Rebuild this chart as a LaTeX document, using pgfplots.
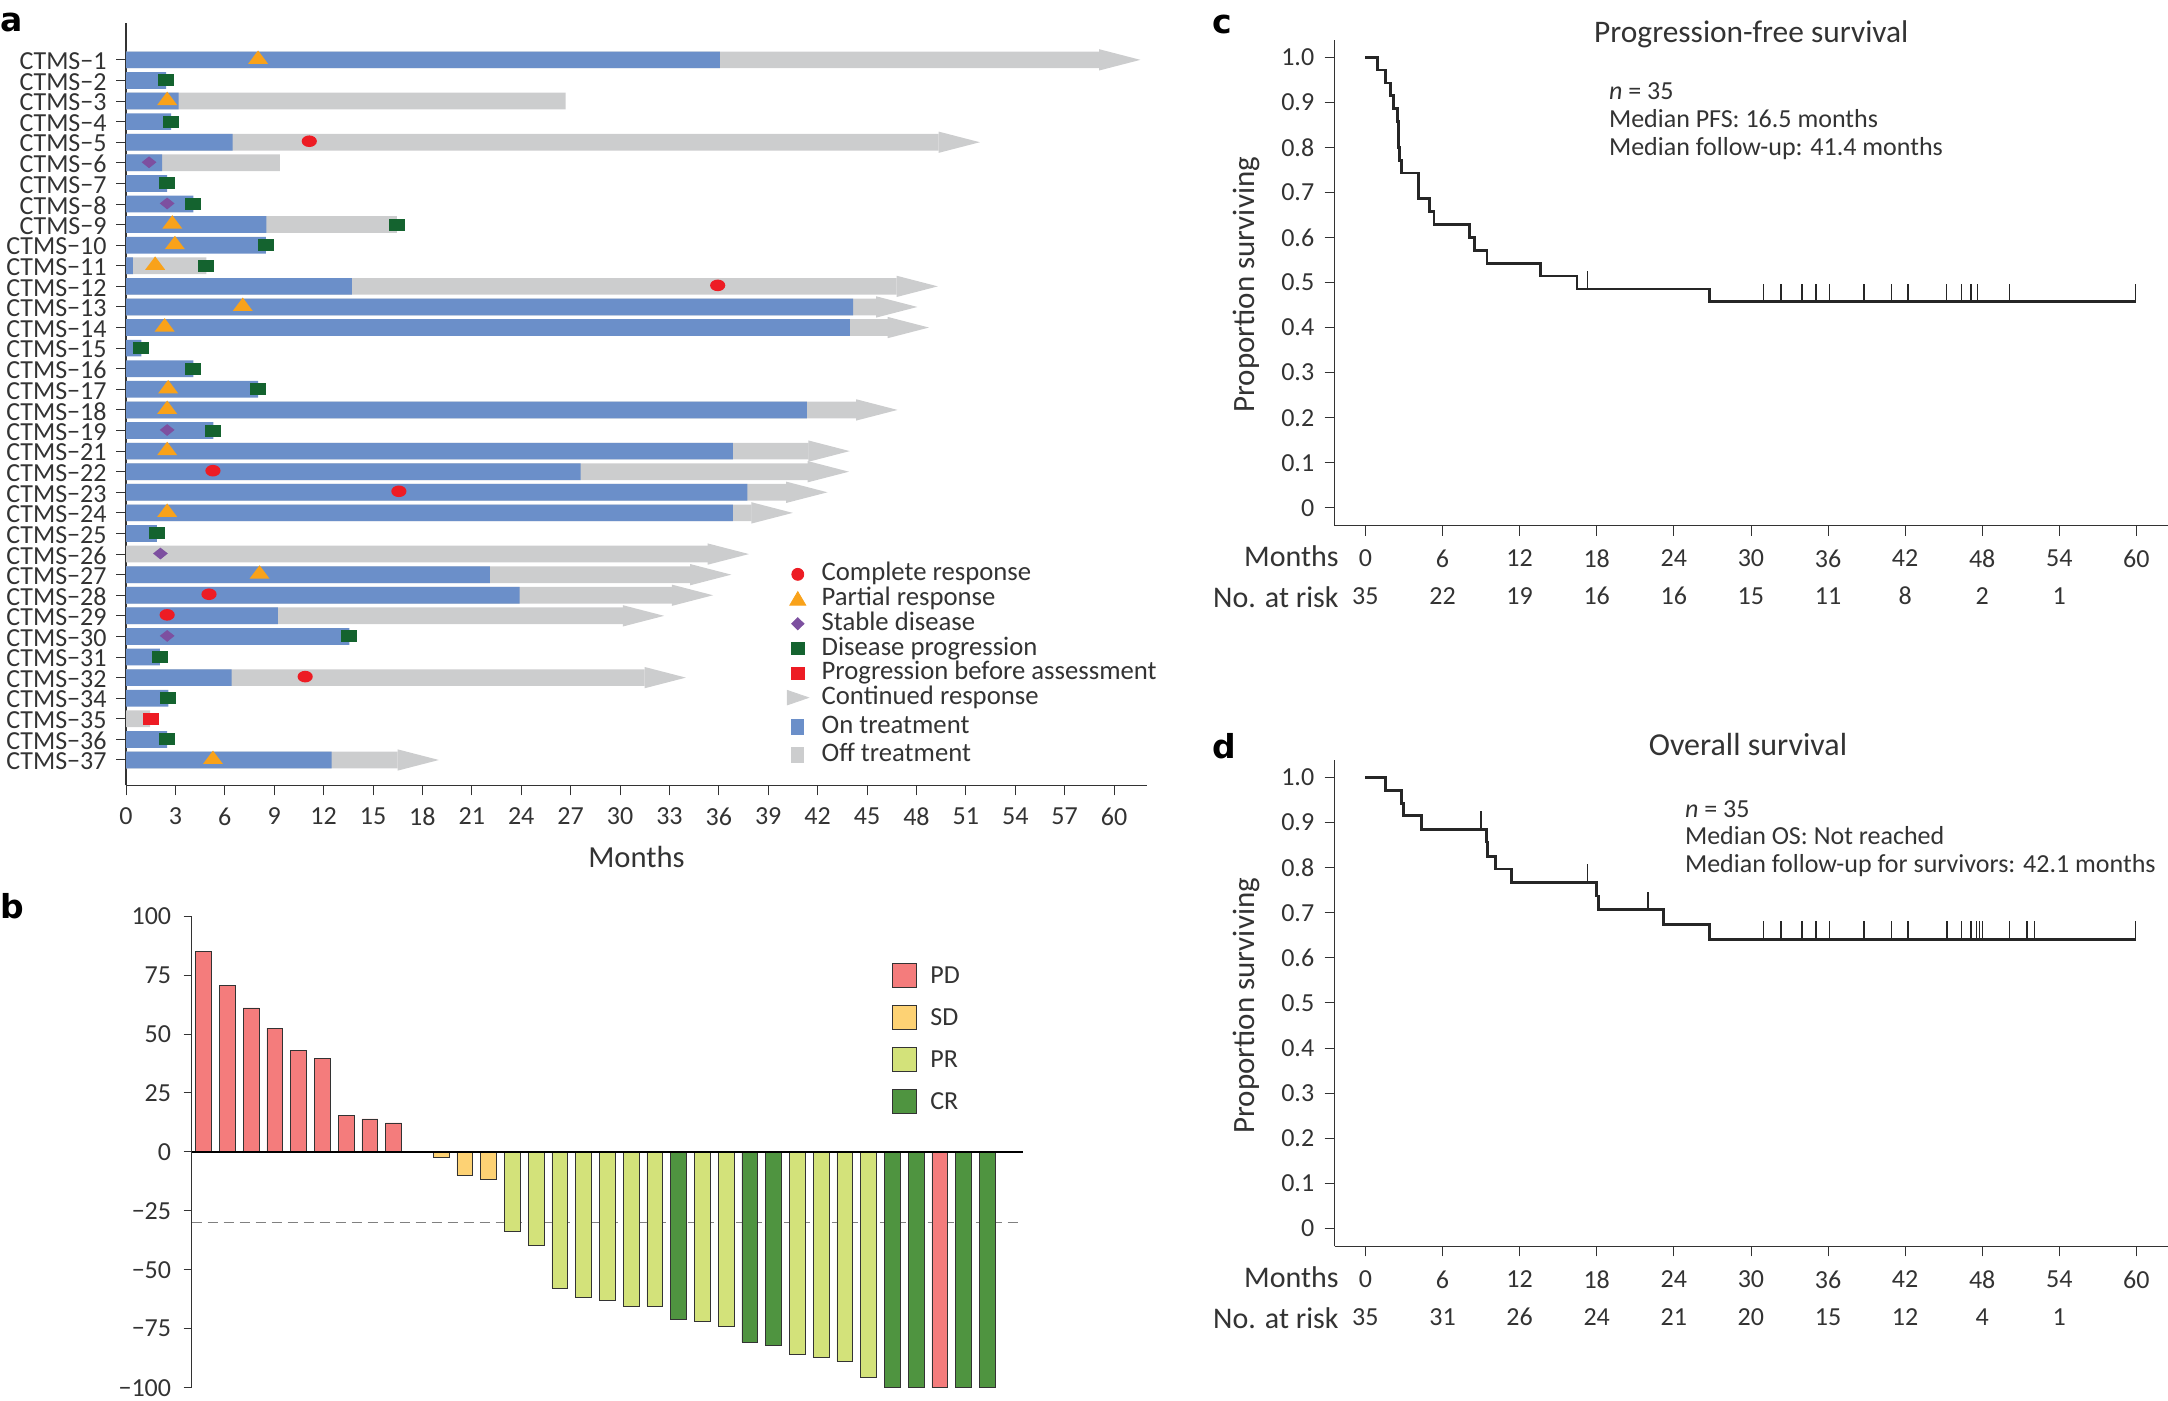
\documentclass[border=0pt]{standalone}
\usepackage{fontspec}
\setmainfont{Carlito}
\newfontfamily\panelfont{DejaVu Sans}
\usepackage{pgfplots}
\usepackage{pgfplotstable}
\pgfplotsset{compat=1.18}

\definecolor{blu}{HTML}{6B8FC9}
\definecolor{gry}{HTML}{CCCDCE}
\definecolor{cCR}{HTML}{ED1C24}
\definecolor{cPR}{HTML}{F9A21A}
\definecolor{cSD}{HTML}{7D50A0}
\definecolor{cDP}{HTML}{14632F}
\definecolor{bPD}{HTML}{F47C7C}
\definecolor{bSD}{HTML}{FDD274}
\definecolor{bPR}{HTML}{D3E27A}
\definecolor{bCR}{HTML}{4F9440}
\definecolor{axc}{HTML}{333333}

% marks, 1 image pixel = 0.5pt
\pgfdeclareplotmark{prtri}{\pgfpathmoveto{\pgfqpoint{-5pt}{-2pt}}\pgfpathlineto{\pgfqpoint{5pt}{-2pt}}\pgfpathlineto{\pgfqpoint{0pt}{4.7pt}}\pgfpathclose\pgfusepathqfill}
\pgfdeclareplotmark{crell}{\pgfpathellipse{\pgfqpoint{0pt}{0.5pt}}{\pgfqpoint{3.8pt}{0pt}}{\pgfqpoint{0pt}{2.9pt}}\pgfusepathqfill}
\pgfdeclareplotmark{dpsq}{\pgfpathrectangle{\pgfqpoint{-4pt}{-3pt}}{\pgfqpoint{8pt}{6pt}}\pgfusepathqfill}
\pgfdeclareplotmark{sddia}{\pgfpathmoveto{\pgfqpoint{-3.7pt}{0.3pt}}\pgfpathlineto{\pgfqpoint{0pt}{3.2pt}}\pgfpathlineto{\pgfqpoint{3.7pt}{0.3pt}}\pgfpathlineto{\pgfqpoint{0pt}{-2.7pt}}\pgfpathclose\pgfusepathqfill}
\pgfdeclareplotmark{arrowtip}{\pgfpathmoveto{\pgfqpoint{0pt}{0pt}}\pgfpathlineto{\pgfqpoint{-20.65pt}{5.33pt}}\pgfpathlineto{\pgfqpoint{-20.65pt}{-5.33pt}}\pgfpathclose\pgfusepathqfill}
\pgfdeclareplotmark{censor}{\pgfpathmoveto{\pgfqpoint{0pt}{0pt}}\pgfpathlineto{\pgfqpoint{0pt}{9pt}}\pgfusepathqstroke}

% panel a: row (35 = CTMS-1 ... 1 = CTMS-37), end of treatment
\pgfplotstableread{
row on
35 36.07
34 2.44
33 3.20
32 2.74
31 6.48
30 2.20
29 2.50
28 4.09
27 8.53
26 8.50
25 0.42
24 13.71
23 44.15
22 43.95
21 0.93
20 4.09
19 8.02
18 41.35
17 5.30
16 36.85
15 27.60
14 37.74
13 36.85
12 1.88
10 22.10
9 23.90
8 9.23
7 13.57
6 2.05
5 6.41
4 2.58
2 2.50
1 12.48
}\ontable
% end of follow-up bar
\pgfplotstableread{
row off
35 59.10
33 26.70
31 49.35
30 9.34
27 16.45
25 4.88
24 46.80
23 45.56
22 46.26
18 44.35
16 41.45
15 41.40
14 40.10
13 37.99
11 35.33
10 34.26
9 33.15
8 30.18
5 31.50
3 1.46
1 16.50
}\offtable

\newcommand\sw[1]{\rule[-2.6pt]{0pt}{#1}}
\newcommand\tsa{\fontsize{13}{15}\selectfont}
\newcommand\tsl{\fontsize{13.35}{15}\selectfont}
\newcommand\lbox{\path[draw=none,fill=none] (-5pt,0)--(9.95pt,0);}
\newcommand\bbox{\path[draw=none,fill=none] (0,0)--(17pt,0);}

\begin{document}
\begin{tikzpicture}[x=0.5pt,y=-0.5pt]
\useasboundingbox (0,0) rectangle (2168,1401);

% ---- panel a
\begin{axis}[
  at={(63pt,-11.5pt)}, anchor=north west,
  scale only axis, width=510.5pt, height=381.15pt,
  xmin=0, xmax=62, ymin=-0.229, ymax=36.79,
  axis lines=left, axis line style={-, axc, line width=0.6pt},
  tick style={axc, line width=0.5pt}, tick align=outside, major tick length=5pt,
  xtick={0,3,...,60},
  ytick={1,...,35},
  yticklabels={CTMS−37,CTMS−36,CTMS−35,CTMS−34,CTMS−32,CTMS−31,CTMS−30,CTMS−29,CTMS−28,CTMS−27,CTMS−26,CTMS−25,CTMS−24,CTMS−23,CTMS−22,CTMS−21,CTMS−19,CTMS−18,CTMS−17,CTMS−16,CTMS−15,CTMS−14,CTMS−13,CTMS−12,CTMS−11,CTMS−10,CTMS−9,CTMS−8,CTMS−7,CTMS−6,CTMS−5,CTMS−4,CTMS−3,CTMS−2,CTMS−1},
  /pgf/number format/assume math mode=true,
  tick label style={font=\tsa, text=axc},
  yticklabel style={inner sep=0pt, xshift=-4.5pt, yshift=-0.7pt},
  xticklabel style={inner sep=0pt, yshift=-6pt},
  xlabel={Months},
  xlabel style={at={(axis description cs:0.5,-0.0937)}, anchor=center, font=\fontsize{15.3}{17}\selectfont, text=axc},
  clip=false,
  legend style={at={(0.647,0.2993)}, anchor=north west, draw=none, fill=none, inner sep=0pt,
    row sep=-2.85pt, font=\tsl, text=axc, cells={anchor=base west, inner sep=0pt}},
]
\addlegendimage{legend image code/.code={\lbox\fill[cCR] (0,3.3pt) circle (3pt);}}
\addlegendentry{\sw{12.3pt}Complete response}
\addlegendimage{legend image code/.code={\lbox\fill[cPR] (-4pt,0.2pt)--(4pt,0.2pt)--(0,7pt)--cycle;}}
\addlegendentry{\sw{12.3pt}Partial response}
\addlegendimage{legend image code/.code={\lbox\fill[cSD] (-3.1pt,3.3pt)--(0,6.3pt)--(3.1pt,3.3pt)--(0,0.3pt)--cycle;}}
\addlegendentry{\sw{12.3pt}Stable disease}
\addlegendimage{legend image code/.code={\lbox\fill[cDP] (-3.1pt,0.3pt) rectangle (3.1pt,6.3pt);}}
\addlegendentry{\sw{12.3pt}Disease progression}
\addlegendimage{legend image code/.code={\lbox\fill[cCR] (-3.1pt,0.3pt) rectangle (3.1pt,6.3pt);}}
\addlegendentry{\sw{12.3pt}Progression before assessment}
\addlegendimage{legend image code/.code={\lbox\fill[gry] (-5.2pt,-0.2pt)--(-5.2pt,7pt)--(5.3pt,3.4pt)--cycle;}}
\addlegendentry{\sw{12.3pt}Continued response}
\addlegendimage{legend image code/.code={\lbox\fill[blu] (-3pt,-0.5pt) rectangle (3pt,7pt);}}
\addlegendentry{\sw{14.6pt}On treatment}
\addlegendimage{legend image code/.code={\lbox\fill[gry] (-3pt,-0.5pt) rectangle (3pt,7pt);}}
\addlegendentry{\sw{13.65pt}Off treatment}

\addplot[forget plot, xbar, bar width=8.35pt, bar shift=0pt, fill=gry, draw=none] table[x=off,y=row] {\offtable};
\addplot[forget plot, xbar, bar width=8.35pt, bar shift=0pt, fill=blu, draw=none] table[x=on,y=row] {\ontable};
% continued response
\addplot[forget plot, only marks, mark=arrowtip, color=gry] coordinates {
(61.6,35)(51.85,31)(49.3,24)(48.06,23)(48.76,22)(46.85,18)(43.95,16)(43.9,15)(42.6,14)(40.49,13)(37.83,11)(36.76,10)(35.65,9)(32.68,8)(34.0,5)(19.0,1)};
% partial response
\addplot[forget plot, only marks, mark=prtri, color=cPR] coordinates {
(8.02,35)(2.5,33)(2.81,27)(2.97,26)(1.77,25)(7.09,23)(2.35,22)(2.56,19)(2.5,18)(2.5,16)(2.5,13)(8.11,10)(5.28,1)};
% complete response
\addplot[forget plot, only marks, mark=crell, color=cCR] coordinates {
(11.13,31)(35.93,24)(5.28,15)(16.57,14)(5.04,9)(2.5,8)(10.88,5)};
% stable disease
\addplot[forget plot, only marks, mark=sddia, color=cSD] coordinates {
(1.4,30)(2.5,28)(2.5,17)(2.09,11)(2.5,7)};
% disease progression
\addplot[forget plot, only marks, mark=dpsq, color=cDP] coordinates {
(2.44,34)(2.74,32)(2.5,29)(4.09,28)(16.45,27)(8.5,26)(4.88,25)(0.93,21)(4.09,20)(8.02,19)(5.3,17)(1.88,12)(13.57,7)(2.05,6)(2.58,4)(2.5,2)};
% progression before assessment
\addplot[forget plot, only marks, mark=dpsq, color=cCR] coordinates {(1.5,3)};
\end{axis}

% ---- panel b
\begin{axis}[
  at={(95.75pt,-458pt)}, anchor=north west,
  scale only axis, width=415.75pt, height=235.85pt,
  xmin=-0.51, xmax=34.5, ymin=-100, ymax=100,
  axis y line=left, axis x line=middle, axis line style={-},
  x axis line style={black, line width=0.7pt}, y axis line style={axc, line width=0.4pt},
  axis on top,
  xtick=\empty,
  ytick={-100,-75,-50,-25,0,25,50,75,100},
  yticklabels={−100,−75,−50,−25,0,25,50,75,100},
  tick style={axc, line width=0.4pt}, tick align=outside, major tick length=4pt,
  tick label style={font=\tsa, text=axc},
  yticklabel style={inner sep=0pt, xshift=-6pt},
  clip=false,
  legend style={at={(0.842,0.932)}, anchor=north west, draw=none, fill=none, inner sep=0pt,
    row sep=0pt, font=\tsa, text=axc, cells={anchor=base west, inner sep=0pt}},
  ybar, bar width=7.9pt, bar shift=0pt,
]
\addplot[forget plot, sharp plot, gray, dashed, line width=0.5pt, dash pattern=on 5pt off 3pt] coordinates {(-0.51,-30)(34.5,-30)};
\addlegendimage{legend image code/.code={\bbox\filldraw[fill=bPD,draw=axc,line width=0.3pt] (0,-2pt) rectangle (12pt,10pt);}}
\addlegendentry{\rule[-6pt]{0pt}{21.45pt}PD}
\addlegendimage{legend image code/.code={\bbox\filldraw[fill=bSD,draw=axc,line width=0.3pt] (0,-2pt) rectangle (12pt,10pt);}}
\addlegendentry{\rule[-6pt]{0pt}{21.45pt}SD}
\addlegendimage{legend image code/.code={\bbox\filldraw[fill=bPR,draw=axc,line width=0.3pt] (0,-2pt) rectangle (12pt,10pt);}}
\addlegendentry{\rule[-6pt]{0pt}{21.45pt}PR}
\addlegendimage{legend image code/.code={\bbox\filldraw[fill=bCR,draw=axc,line width=0.3pt] (0,-2pt) rectangle (12pt,10pt);}}
\addlegendentry{\rule[-6pt]{0pt}{21.45pt}CR}
\addplot[forget plot, fill=bPD, draw=axc, line width=0.3pt] coordinates {
(0,85)(1,70.7)(2,61)(3,52.5)(4,43)(5,39.5)(6,15.5)(7,14)(8,12.3)(31,-100)};
\addplot[forget plot, fill=bSD, draw=axc, line width=0.3pt] coordinates {
(9,0)(10,-2.5)(11,-10)(12,-11.7)};
\addplot[forget plot, fill=bPR, draw=axc, line width=0.3pt] coordinates {
(13,-33.5)(14,-39.7)(15,-57.8)(16,-61.8)(17,-62.8)(18,-65.3)(19,-65.3)(21,-71.7)(22,-73.8)(25,-85.8)(26,-87.3)(27,-88.8)(28,-95.7)};
\addplot[forget plot, fill=bCR, draw=axc, line width=0.3pt] coordinates {
(20,-71)(23,-80.7)(24,-82)(29,-100)(30,-100)(32,-100)(33,-100)};
\end{axis}

% ---- panel c
\begin{axis}[
  at={(667.3pt,-19.8pt)}, anchor=north west,
  scale only axis, width=416.7pt, height=243.05pt,
  xmin=-2.4, xmax=62.46, ymin=-0.0397, ymax=1.039,
  axis lines=left, axis line style={-, axc, line width=0.5pt},
  tick style={axc, line width=0.4pt}, tick align=outside, major tick length=5pt,
  xtick={0,6,...,60},
  ytick={0,0.1,...,1.0},
  yticklabels={0,0.1,0.2,0.3,0.4,0.5,0.6,0.7,0.8,0.9,1.0},
  /pgf/number format/assume math mode=true,
  tick label style={font=\tsa, text=axc},
  yticklabel style={inner sep=0pt, xshift=-5pt},
  xticklabel style={inner sep=0pt, yshift=-7pt},
  ylabel={Proportion surviving},
  ylabel style={at={(axis description cs:-0.1063,0.4957)}, anchor=center, font=\fontsize{15.5}{17}\selectfont, text=axc},
  title={Progression-free survival},
  title style={at={(axis description cs:0.5,1.011)}, anchor=center, yshift=-6pt, font=\fontsize{15.7}{17}\selectfont, text=axc},
  clip=false,
]
\addplot[const plot, color=black!85, line width=1.4pt] coordinates {
(0,1)(0.96,0.9714)(1.58,0.9429)(1.97,0.9143)(2.16,0.8857)(2.5,0.8571)(2.55,0.8286)(2.6,0.8)(2.65,0.7714)(2.83,0.7429)(4.13,0.6857)(5.0,0.6571)(5.33,0.6286)(8.07,0.6)(8.5,0.5714)(9.46,0.5429)(13.64,0.5143)(16.47,0.4857)(26.75,0.4571)(59.94,0.4571)};
\addplot[only marks, mark=censor, color=black!85, line width=0.7pt] coordinates {
(17.3,0.4857)(30.98,0.4571)(32.33,0.4571)(33.96,0.4571)(35.06,0.4571)(36.12,0.4571)(38.81,0.4571)(40.92,0.4571)(42.22,0.4571)(45.2,0.4571)(46.4,0.4571)(47.12,0.4571)(47.65,0.4571)(50.14,0.4571)(59.94,0.4571)};
\end{axis}

% ---- panel d
\begin{axis}[
  at={(667.3pt,-380pt)}, anchor=north west,
  scale only axis, width=416.7pt, height=243.2pt,
  xmin=-2.4, xmax=62.46, ymin=-0.0404, ymax=1.039,
  axis lines=left, axis line style={-, axc, line width=0.5pt},
  tick style={axc, line width=0.4pt}, tick align=outside, major tick length=5pt,
  xtick={0,6,...,60},
  ytick={0,0.1,...,1.0},
  yticklabels={0,0.1,0.2,0.3,0.4,0.5,0.6,0.7,0.8,0.9,1.0},
  /pgf/number format/assume math mode=true,
  tick label style={font=\tsa, text=axc},
  yticklabel style={inner sep=0pt, xshift=-5pt},
  xticklabel style={inner sep=0pt, yshift=-7pt},
  ylabel={Proportion surviving},
  ylabel style={at={(axis description cs:-0.1063,0.4947)}, anchor=center, font=\fontsize{15.5}{17}\selectfont, text=axc},
  title={Overall survival},
  title style={at={(axis description cs:0.496,1.031)}, anchor=center, yshift=-6pt, font=\fontsize{16}{18}\selectfont, text=axc},
  clip=false,
]
\addplot[const plot, color=black!85, line width=1.4pt] coordinates {
(0,1)(1.54,0.971)(2.79,0.943)(2.98,0.915)(4.37,0.8855)(9.41,0.857)(9.5,0.825)(10.13,0.797)(11.34,0.768)(18.0,0.737)(18.16,0.7065)(23.17,0.6737)(26.75,0.641)(59.94,0.641)};
\addplot[only marks, mark=censor, color=black!85, line width=0.7pt] coordinates {
(8.98,0.8855)(17.29,0.768)(22,0.7065)(30.98,0.641)(32.33,0.641)(33.96,0.641)(35.06,0.641)(36.12,0.641)(38.81,0.641)(40.92,0.641)(42.22,0.641)(45.2,0.641)(45.3,0.641)(46.4,0.641)(47.12,0.641)(47.55,0.641)(47.8,0.641)(48.0,0.641)(50.14,0.641)(51.49,0.641)(52.07,0.641)(59.94,0.641)};
\end{axis}

% ---- text around the panels
\begin{scope}[every node/.style={inner sep=0pt, text=axc, font=\tsa}]
\node[anchor=base east,font=\fontsize{15}{17}\selectfont] at (1339,566) {Months};
\node[anchor=base east,font=\fontsize{15}{17}\selectfont] at (1339,607) {No. at risk};
\foreach \m/\n in {0/35,6/22,12/19,18/16,24/16,30/15,36/11,42/8,48/2,54/1}
  \node[anchor=base] at ({1365.4+12.85*\m},604) {\n};
\node[anchor=base east,font=\fontsize{15}{17}\selectfont] at (1339,1287) {Months};
\node[anchor=base east,font=\fontsize{15}{17}\selectfont] at (1339,1328) {No. at risk};
\foreach \m/\n in {0/35,6/31,12/26,18/24,24/21,30/20,36/15,42/12,48/4,54/1}
  \node[anchor=base] at ({1365.4+12.85*\m},1325) {\n};
\node[anchor=base west] at (1608.6,100) {\textit{n} = 35};
\node[anchor=base west] at (1608.6,128) {Median PFS: 16.5 months};
\node[anchor=base west] at (1608.6,155.5) {Median follow-up: 41.4 months};
\node[anchor=base west] at (1684.6,817) {\textit{n} = 35};
\node[anchor=base west] at (1684.6,844.5) {Median OS: Not reached};
\node[anchor=base west] at (1684.6,872) {Median follow-up for survivors: 42.1 months};
\end{scope}
\begin{scope}[every node/.style={inner sep=0pt, anchor=base west, font=\panelfont\bfseries\fontsize{16.5}{20}\selectfont}]
\node at (0,32) {a};
\node at (0,918) {b};
\node at (1212,34) {c};
\node at (1212,758) {d};
\end{scope}
\end{tikzpicture}
\end{document}
